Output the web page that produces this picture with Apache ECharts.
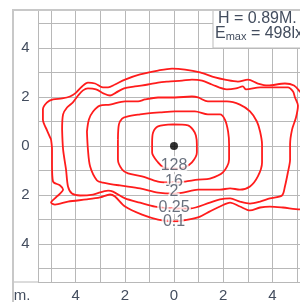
<!DOCTYPE html>
<html>
<head>
<meta charset="utf-8">
<title>isolux</title>
<script src="https://cdn.jsdelivr.net/npm/echarts/dist/echarts.min.js"></script>
<style>
html,body{margin:0;padding:0;background:#fff;}
#chart-iso{width:300px;height:302px;}
</style>
</head>
<body>
<div id="chart-iso"></div>
<script>
//等照度曲线, [x(m), y(m)]
var contour128=[[-0.04,0.88],[0.57,0.84],[0.77,0.67],[0.89,0.43],[0.93,0.06],[0.93,-0.27],[0.73,-0.67],[0.41,-0.88],[0,-0.92],[-0.41,-0.88],[-0.65,-0.67],[-0.89,-0.27],[-0.89,0.14],[-0.85,0.55],[-0.65,0.80],[-0.04,0.88]];
var contour16=[[-2.28,0.27],[-2.24,0.88],[-2.11,1.12],[-1.91,1.20],[-1.38,1.29],[-1.06,1.33],[-0.57,1.37],[0.04,1.41],[0.85,1.41],[1.38,1.29],[1.87,1.29],[2.07,1.08],[2.20,0.59],[2.24,0.06],[2.24,-0.55],[1.99,-1.08],[1.46,-1.33],[0.98,-1.37],[0.45,-1.45],[0,-1.49],[-0.65,-1.45],[-1.30,-1.24],[-1.87,-1.12],[-2.11,-0.96],[-2.28,-0.55],[-2.28,-0.14],[-2.28,0.27]];
var contour2=[[-3.54,0.59],[-3.46,1.08],[-3.29,1.41],[-3.01,1.65],[-2.60,1.69],[-1.99,1.82],[-1.46,1.82],[-1.18,1.90],[-0.65,1.98],[0.04,1.98],[0.73,2.02],[0.98,1.98],[1.38,1.82],[2.15,1.82],[2.68,1.69],[3.09,1.41],[3.37,1.00],[3.50,0.59],[3.58,0.06],[3.58,-0.67],[3.41,-1.24],[3.09,-1.65],[2.68,-1.78],[2.28,-1.73],[1.87,-1.78],[1.46,-1.78],[0.98,-1.78],[0.37,-1.90],[0,-1.94],[-0.65,-1.90],[-1.38,-1.73],[-2.20,-1.61],[-2.89,-1.49],[-3.13,-1.41],[-3.41,-0.84],[-3.50,-0.14],[-3.54,0.59]];
var contour025=[[-4.55,0.67],[-4.51,1.29],[-4.35,1.57],[-4.11,1.78],[-3.90,2.06],[-3.70,2.27],[-3.50,2.35],[-3.17,2.31],[-2.85,2.14],[-2.60,2.06],[-2.36,2.18],[-2.03,2.35],[-1.59,2.43],[-1.06,2.51],[-0.65,2.59],[-0.24,2.63],[0.33,2.67],[0.73,2.71],[1.14,2.67],[1.54,2.51],[2.15,2.31],[2.52,2.35],[2.80,2.43],[2.93,2.31],[3.50,2.39],[4.19,2.39],[4.63,2.39],[4.84,2.22],[4.92,1.98],[5.04,1.65],[4.96,1.16],[4.80,0.67],[4.72,0.06],[4.72,-0.55],[4.63,-1.08],[4.51,-1.65],[4.39,-2.02],[3.90,-2.14],[3.50,-2.27],[3.09,-2.35],[2.68,-2.27],[2.28,-2.14],[1.87,-2.18],[1.46,-2.31],[0.65,-2.55],[0,-2.55],[-0.77,-2.47],[-1.38,-2.31],[-1.99,-2.14],[-2.48,-1.86],[-2.68,-1.82],[-3.29,-1.98],[-3.82,-2.02],[-4.15,-1.94],[-4.31,-1.65],[-4.39,-0.96],[-4.51,-0.14],[-4.55,0.67]];
var contour01=[[-5.00,0.27],[-5.16,0.63],[-5.33,1.08],[-5.33,1.49],[-5.16,1.78],[-4.92,1.90],[-4.55,1.94],[-4.23,2.02],[-3.98,2.18],[-3.74,2.43],[-3.50,2.59],[-3.21,2.55],[-2.89,2.39],[-2.68,2.39],[-2.40,2.51],[-1.99,2.71],[-1.38,2.92],[-0.65,3.08],[-0.08,3.16],[0.45,3.12],[1.06,3.00],[1.67,2.80],[2.07,2.71],[2.60,2.63],[3.01,2.71],[3.41,2.55],[3.82,2.47],[4.51,2.55],[4.88,2.47],[5.12,2.22],[5.37,1.90],[5.53,-0.14],[5.37,-2.35],[5.12,-2.59],[4.43,-2.51],[3.90,-2.47],[3.50,-2.51],[3.09,-2.63],[2.68,-2.47],[2.28,-2.31],[1.87,-2.47],[1.46,-2.67],[1.06,-2.88],[0.57,-3.00],[0,-3.08],[-0.65,-3.00],[-1.30,-2.80],[-1.99,-2.47],[-2.40,-2.06],[-2.60,-1.98],[-3.01,-2.10],[-3.54,-2.18],[-4.31,-2.27],[-4.84,-2.39],[-5.00,-2.31],[-4.76,-2.06],[-4.51,-1.78],[-4.63,-1.61],[-4.92,-1.45],[-4.96,-0.76],[-4.96,-0.14],[-5.00,0.27]];
var levels=['128','16','2','0.25','0.1'];
var levelLabelY=[-0.82,-1.44,-1.87,-2.52,-3.07];
var lampPos=[0,0];
var infoH='H = 0.89M.';
var infoE='498lx';

var textColor='#434d5e';
var lineColor='#ff1c1c';
var fontName='"Liberation Sans", Arial, sans-serif';

function evenLabel(v){
	//只显示偶数刻度, 取绝对值
	if(Math.abs(v)%2===0){
		return String(Math.abs(v));
	}
	return '';
}

function contourSeries(data){
	return {
		type:'line',
		data:data,
		smooth:0.3,
		symbol:'none',
		lineStyle:{color:lineColor,width:1.8},
		z:3
	};
}

var labelData=[];
for(var i=0;i<levels.length;i++){
	labelData.push({name:levels[i],value:[0,levelLabelY[i]]});
}

var isoChart=echarts.init(document.getElementById('chart-iso'));
var option={
	animation:false,
	grid:{left:38,top:10,width:272,height:272,outerBoundsMode:'none',containLabel:false},
	xAxis:{
		type:'value',
		min:-5.53,
		max:5.53,
		splitNumber:11,
		axisLine:{show:false},
		axisTick:{show:false},
		splitLine:{lineStyle:{color:'#b8b8b8',width:1}},
		axisLabel:{formatter:evenLabel,color:textColor,fontSize:15,fontFamily:fontName,margin:14,verticalAlign:'middle',showMinLabel:false,showMaxLabel:false}
	},
	yAxis:{
		type:'value',
		min:-5.55,
		max:5.55,
		splitNumber:11,
		axisLine:{show:false},
		axisTick:{show:false},
		splitLine:{lineStyle:{color:'#b8b8b8',width:1}},
		axisLabel:{formatter:evenLabel,color:textColor,fontSize:15,fontFamily:fontName,margin:12.5,align:'center',showMinLabel:false,showMaxLabel:false}
	},
	series:[
		contourSeries(contour128),
		contourSeries(contour16),
		contourSeries(contour2),
		contourSeries(contour025),
		contourSeries(contour01),
		{
			type:'scatter',
			data:labelData,
			symbolSize:1,
			itemStyle:{color:'rgba(0,0,0,0)'},
			label:{show:true,position:'inside',formatter:'{b}',color:textColor,fontSize:16,fontFamily:fontName,textBorderColor:'#fff',textBorderWidth:4},
			z:5
		},
		{
			type:'scatter',
			data:[lampPos],
			symbolSize:8,
			itemStyle:{color:'#000'},
			z:6
		}
	],
	graphic:[
		{type:'line',shape:{x1:13,y1:282,x2:38,y2:282},style:{stroke:'#b8b8b8',lineWidth:1},z:50},
		{type:'rect',shape:{x:213,y:10,width:100,height:38},style:{fill:'#fff',stroke:'#bbb',lineWidth:1},z:50},
		{type:'rect',shape:{x:13,y:10,width:400,height:400},style:{fill:'none',stroke:'#c8c8c8',lineWidth:2},z:60},
		{type:'text',x:218,y:19,style:{text:infoH,font:'16px '+fontName,fill:textColor,textVerticalAlign:'middle'},z:70},
		{type:'text',x:215,y:34,style:{
			text:'{e|E}{m|max}{e| = '+infoE+'}',
			fill:textColor,
			textVerticalAlign:'middle',
			rich:{
				e:{fontSize:16,fontFamily:fontName,color:textColor,verticalAlign:'bottom'},
				m:{fontSize:11,fontFamily:fontName,color:textColor,verticalAlign:'bottom'}
			}
		},z:70},
		{type:'text',x:22,y:296,style:{text:'m.',font:'15px '+fontName,fill:textColor,textAlign:'center',textVerticalAlign:'middle'},z:70}
	]
};
isoChart.setOption(option);
</script>
</body>
</html>
